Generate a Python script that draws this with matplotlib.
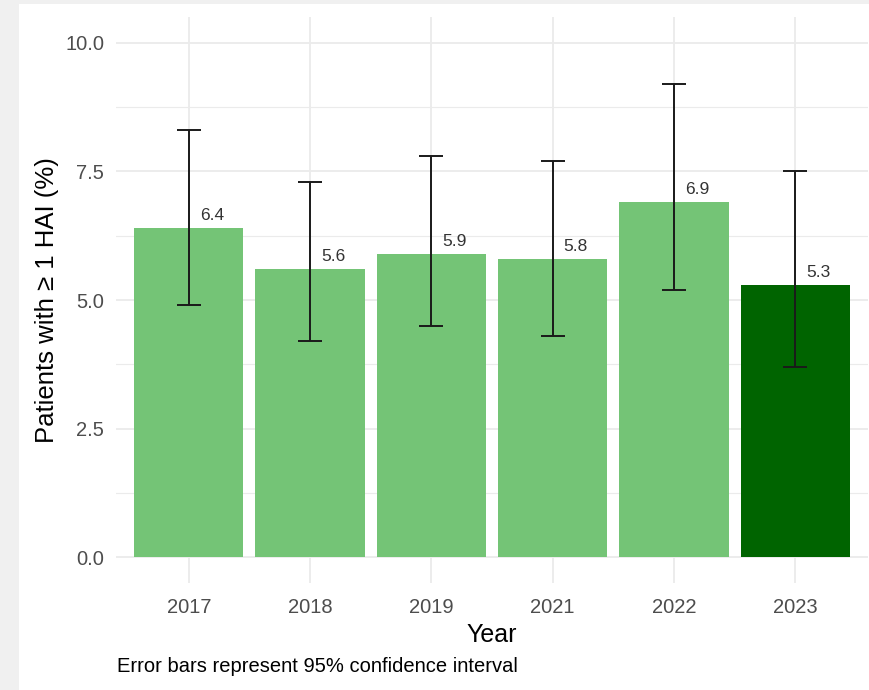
import matplotlib
matplotlib.use("Agg")
import matplotlib.pyplot as plt
from matplotlib.patches import Rectangle
from matplotlib.ticker import MultipleLocator

plt.rcParams['font.family'] = ['Liberation Sans', 'DejaVu Sans']

# HAI prevalence by survey year, with 95% CI
years = ["2017", "2018", "2019", "2021", "2022", "2023"]
pct = [6.4, 5.6, 5.9, 5.8, 6.9, 5.3]
ci_low = [4.9, 4.2, 4.5, 4.3, 5.2, 3.7]
ci_high = [8.3, 7.3, 7.8, 7.7, 9.2, 7.5]
highlight = "2023"

light_green = "#74c476"
dark_green = "#006400"
grid_col = "#ebebeb"

fig = plt.figure(figsize=(8.69, 6.90), dpi=100)
# grey frame strips on the left and top edges
fig.patches.append(Rectangle((0, 0), 19 / 869, 1, transform=fig.transFigure,
                             facecolor="#f0f0f0", edgecolor="none", zorder=-1))
fig.patches.append(Rectangle((0, 1 - 4 / 690), 1, 4 / 690, transform=fig.transFigure,
                             facecolor="#f0f0f0", edgecolor="none", zorder=-1))

ax = fig.add_axes([116 / 869, 1 - 583 / 690, (868 - 116) / 869, (583 - 17) / 690])
ax.set_facecolor("none")

x = list(range(len(years)))
colors = [dark_green if y == highlight else light_green for y in years]
ax.bar(x, pct, width=0.9, color=colors, zorder=2)

yerr = [[p - lo for p, lo in zip(pct, ci_low)], [hi - p for p, hi in zip(pct, ci_high)]]
ax.errorbar(x, pct, yerr=yerr, fmt="none", ecolor="#1a1a1a", elinewidth=1.4,
            capsize=8.6, capthick=1.4, zorder=3)

for xi, p in zip(x, pct):
    ax.annotate(f"{p:.1f}", (xi + 0.19, p), xytext=(0, 3.5), textcoords="offset points",
                ha="center", va="bottom", fontsize=12.5, color="#333333", zorder=4)

ax.set_xlim(-0.6, len(years) - 0.4)
ax.set_ylim(-0.5, 10.5)
ax.set_xticks(x)
ax.set_xticklabels(years)
ax.yaxis.set_major_locator(MultipleLocator(2.5))
ax.yaxis.set_minor_locator(MultipleLocator(1.25))
ax.set_yticks([0, 2.5, 5.0, 7.5, 10.0])
ax.set_yticklabels(["0.0", "2.5", "5.0", "7.5", "10.0"])

ax.grid(True, which="major", color=grid_col, linewidth=1.3, zorder=0)
ax.grid(True, which="minor", axis="y", color=grid_col, linewidth=0.8, zorder=0)
ax.set_axisbelow(True)
for s in ax.spines.values():
    s.set_visible(False)
ax.tick_params(axis="both", which="both", length=0, labelsize=14.5, labelcolor="#4d4d4d")
ax.tick_params(axis="x", pad=11)
ax.tick_params(axis="y", pad=8.5)

ax.set_xlabel("Year", fontsize=18, color="black", labelpad=4)
ax.set_ylabel("Patients with ≥ 1 HAI (%)", fontsize=18.5, color="black", labelpad=4.5)

fig.text(117 / 869, 1 - 666 / 690, "Error bars represent 95% confidence interval",
         ha="left", va="center", fontsize=14.5, color="black")

fig.savefig("out.png", dpi=100)
